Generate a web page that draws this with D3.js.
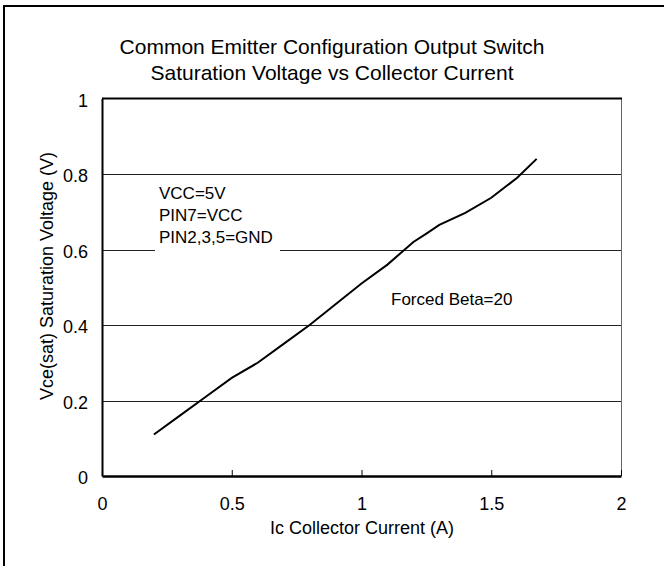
<!DOCTYPE html>
<html>
<head>
<meta charset="utf-8">
<script src="https://cdn.jsdelivr.net/npm/d3@7"></script>
<style>
  body { margin: 0; background: #fff; }
  svg { display: block; font-family: "Liberation Sans", Arial, sans-serif; }
</style>
</head>
<body>
<svg id="chart" width="664" height="566"></svg>
<script>
// values
const icCurrent = [0.2, 0.3, 0.4, 0.5, 0.6, 0.7, 0.8, 0.9, 1.0, 1.1, 1.2, 1.25, 1.3, 1.4, 1.5, 1.6, 1.675];
const vceSat    = [0.11, 0.16, 0.21, 0.26, 0.30, 0.35, 0.40, 0.455, 0.51, 0.56, 0.62, 0.642, 0.665, 0.697, 0.737, 0.79, 0.84];
const xTicks = [0, 0.5, 1, 1.5, 2];
const yTicks = [0, 0.2, 0.4, 0.6, 0.8, 1];
const titleLines = ["Common Emitter Configuration Output Switch", "Saturation Voltage vs Collector Current"];
const noteLines = ["VCC=5V", "PIN7=VCC", "PIN2,3,5=GND"];

const svg = d3.select("#chart");
const plot = {left: 102, right: 621, top: 98.5, bottom: 476};

const x = d3.scaleLinear().domain([0, 2]).range([plot.left, plot.right]);
const y = d3.scaleLinear().domain([0, 1]).range([plot.bottom, plot.top]);

// outer frame (only left and top are inside the picture)
svg.append("path")
    .attr("d", "M4,566V6H664")
    .attr("fill", "none")
    .attr("stroke", "#000")
    .attr("stroke-width", 2);

// title
svg.append("text")
    .attr("text-anchor", "middle")
    .style("font-size", "21px")
    .selectAll("tspan")
    .data(titleLines)
    .enter().append("tspan")
        .attr("x", 332)
        .attr("y", (d, i) => 53.5 + i * 26.5)
        .text(d => d);

// gridlines
svg.append("g")
    .selectAll("line")
    .data(yTicks.filter(d => d > 0 && d < 1))
    .enter().append("line")
        .attr("x1", plot.left)
        .attr("x2", plot.right)
        .attr("y1", d => Math.round(y(d)) + 0.5)
        .attr("y2", d => Math.round(y(d)) + 0.5)
        .attr("stroke", "#222")
        .attr("stroke-width", 1);

// right border of plot area
svg.append("line")
    .attr("x1", plot.right + 0.5).attr("x2", plot.right + 0.5)
    .attr("y1", plot.top).attr("y2", plot.bottom)
    .attr("stroke", "#666").attr("stroke-width", 1);

// top border
svg.append("line")
    .attr("x1", plot.left).attr("x2", plot.right + 1)
    .attr("y1", y(1)).attr("y2", y(1))
    .attr("stroke", "#000").attr("stroke-width", 2);

// annotation box (covers part of the 0.6 gridline)
svg.append("rect")
    .attr("x", 155).attr("y", 180)
    .attr("width", 125).attr("height", 74)
    .attr("fill", "#fff");

svg.append("g")
    .style("font-size", "17px")
    .selectAll("text")
    .data(noteLines)
    .enter().append("text")
        .attr("x", 159)
        .attr("y", (d, i) => 199 + i * 22)
        .text(d => d);

svg.append("text")
    .attr("x", 391)
    .attr("y", 305)
    .style("font-size", "17px")
    .text("Forced Beta=20");

// axes
const xAxis = svg.append("g")
    .attr("transform", `translate(0,${plot.bottom})`)
    .call(d3.axisBottom(x).tickValues(xTicks).tickSizeInner(-6).tickSizeOuter(0)
        .tickFormat(d3.format("")));
xAxis.select(".domain").attr("stroke-width", 2.5);
xAxis.selectAll(".tick line").attr("stroke-width", 1);
xAxis.selectAll("text")
    .attr("y", 34).attr("dy", null)
    .style("font-size", "18px").attr("fill", "#000")
    .attr("font-family", "Liberation Sans, Arial, sans-serif");

const yAxis = svg.append("g")
    .attr("transform", `translate(${plot.left},0)`)
    .call(d3.axisLeft(y).tickValues(yTicks).tickSizeInner(0).tickSizeOuter(0).tickPadding(14)
        .tickFormat(d3.format("")));
yAxis.select(".domain").attr("stroke-width", 2);
yAxis.selectAll("text")
    .attr("dy", "0.42em")
    .style("font-size", "18px").attr("fill", "#000")
    .attr("font-family", "Liberation Sans, Arial, sans-serif");

// axis titles
svg.append("text")
    .attr("x", 362)
    .attr("y", 534)
    .attr("text-anchor", "middle")
    .style("font-size", "18px")
    .text("Ic Collector Current (A)");

svg.append("text")
    .attr("transform", "translate(53,276) rotate(-90)")
    .attr("text-anchor", "middle")
    .style("font-size", "18px")
    .text("Vce(sat) Saturation Voltage (V)");

// curve
const pts = icCurrent.map((d, i) => [d, vceSat[i]]);
svg.append("path")
    .datum(pts)
    .attr("fill", "none")
    .attr("stroke", "#000")
    .attr("stroke-width", 2)
    .attr("d", d3.line().x(d => x(d[0])).y(d => y(d[1])));
</script>
</body>
</html>
